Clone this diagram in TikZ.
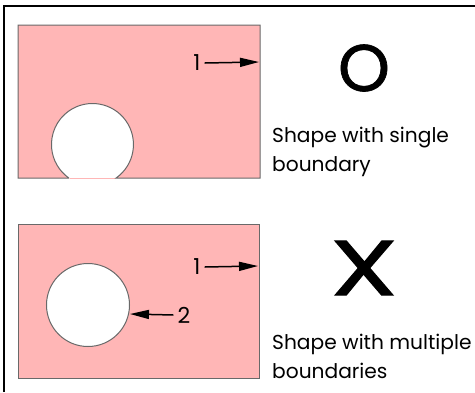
\documentclass[tikz,border=0pt]{standalone}
\usepackage{fontspec}
\setmainfont{Poppins}
\usetikzlibrary{arrows.meta}
\definecolor{shapepink}{RGB}{255,182,182}
\definecolor{edgegray}{RGB}{105,105,105}

\begin{document}
\begin{tikzpicture}[x=1pt, y=-1pt,
  every node/.style={inner sep=0, font=\fontsize{20.2}{29}\selectfont},
  num/.style={font=\fontsize{22}{22}\selectfont},
  bigsign/.style={font=\fontsize{66}{66}\selectfont\addfontfeatures{FakeBold=1}},
  outline/.style={draw=edgegray, line width=1pt},
  pointer/.style={line width=1.5pt, -{Triangle[length=19pt, width=9pt]}}]
  \useasboundingbox (0,0) rectangle (475,392);
  \draw[line width=2pt] (4,392) -- (4,6) -- (475,6);

  \begin{scope}
    \clip (18,25) rectangle (260,178);
    \fill[shapepink, even odd rule] (18,25) rectangle (260,178) (92.5,144.5) circle (41);
  \end{scope}
  \draw[outline] (68.9,178) -- (18,178) -- (18,25) -- (260,25) -- (260,178) -- (116.1,178)
    arc (54.8:-234.8:41);

  \filldraw[fill=shapepink, outline] (18,224) rectangle (259,378);
  \filldraw[fill=white, outline] (88,305) circle (41.5);

  \node[num] (n1) at (197,63) {1};
  \coordinate (e1) at (259,62);
  \draw[pointer] (n1.east) ++(4,0) -- (e1);
  \node[bigsign] (single) at (364,68) {O};
  \node[align=left, anchor=west] (t1) at (272,152) {Shape with single\\boundary};

  \node[num] (n2) at (197,267) {1};
  \coordinate (e2) at (258,266);
  \draw[pointer] (n2.east) ++(4,0) -- (e2);
  \node[num] (n3) at (184,315) {2};
  \coordinate (e3) at (130,314);
  \draw[pointer] (n3.west) ++(-4,0) -- (e3);
  \node[bigsign, font=\fontsize{78}{78}\selectfont\addfontfeatures{FakeBold=1.2}, xscale=1.4] (multi) at (364,268) {X};
  \node[align=left, anchor=west] (t2) at (272,356) {Shape with multiple\\boundaries};
\end{tikzpicture}
\end{document}
